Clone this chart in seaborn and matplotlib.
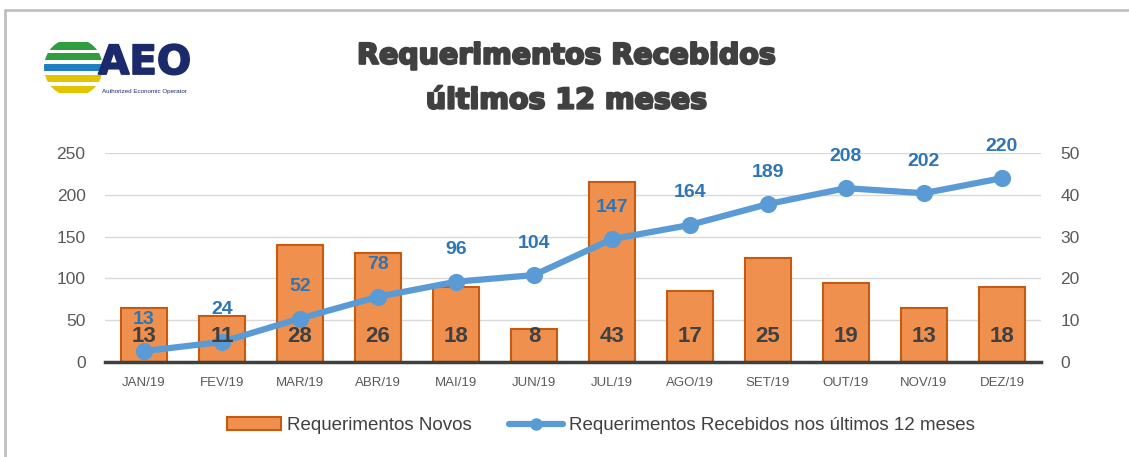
import numpy as np
import pandas as pd
import matplotlib
matplotlib.use("Agg")
import matplotlib.pyplot as plt
import matplotlib.patheffects as pe
from matplotlib.patches import Patch, Circle
from matplotlib.lines import Line2D
import seaborn as sns

sns.set_theme(style="white")
plt.rcParams['font.family'] = ['Liberation Sans', 'DejaVu Sans']

months = ['JAN/19', 'FEV/19', 'MAR/19', 'ABR/19', 'MAI/19', 'JUN/19',
          'JUL/19', 'AGO/19', 'SET/19', 'OUT/19', 'NOV/19', 'DEZ/19']
novos = [13, 11, 28, 26, 18, 8, 43, 17, 25, 19, 13, 18]
recebidos_12m = [13, 24, 52, 78, 96, 104, 147, 164, 189, 208, 202, 220]

df = pd.DataFrame({'mes': months, 'novos': novos, 'recebidos': recebidos_12m})

orange = '#F0904F'
orange_edge = '#C55A11'
blue_line = '#5B9BD5'
blue_txt = '#2E75B6'
dark = '#404040'
gray_txt = '#595959'

fig = plt.figure(figsize=(11.29, 4.57), dpi=100)
ax = fig.add_axes([0.093, 0.208, 0.829, 0.457])
ax2 = ax.twinx()

# bars (values on the 0-50 scale, shown on the right)
sns.barplot(data=df, x='mes', y='novos', color=orange, saturation=1,
            edgecolor=orange_edge, linewidth=1.5, width=0.6, ax=ax)
ax.set_ylim(0, 50)
ax.set_yticks(range(0, 51, 10))
ax.yaxis.tick_right()
ax.grid(axis='y', color='#D9D9D9', linewidth=1)
ax.set_axisbelow(True)

# line (values on the 0-250 scale, shown on the left)
sns.pointplot(data=df, x='mes', y='recebidos', color=blue_line,
              markers='o', markersize=9, linewidth=4.5, ax=ax2)
ax2.set_ylim(0, 250)
ax2.set_yticks(range(0, 251, 50))
ax2.yaxis.tick_left()

ax.set_xlim(-0.5, len(months) - 0.5)
for a in (ax, ax2):
    a.set_xlabel('')
    a.set_ylabel('')
    for s in a.spines.values():
        s.set_visible(False)
    a.tick_params(axis='both', length=0, colors=gray_txt)
ax.spines['bottom'].set_visible(True)
ax.spines['bottom'].set_color(dark)
ax.spines['bottom'].set_linewidth(2.5)
ax.tick_params(axis='y', labelsize=12.5, pad=14)
ax2.tick_params(axis='y', labelsize=12.5, pad=14)
ax.tick_params(axis='x', labelsize=9.5, pad=11)
ax2.tick_params(axis='x', labelbottom=False)

# labels
for i, v in enumerate(novos):
    ax2.text(i, 6 * 5, str(v), ha='center', va='center', fontsize=16,
             fontweight='bold', color=dark, zorder=6)
for i, v in enumerate(recebidos_12m):
    ax2.annotate(str(v), (i, v), xytext=(0, 23), textcoords='offset points',
                 ha='center', va='center', fontsize=14, fontweight='bold',
                 color=blue_txt, zorder=6)

# title
heavy = [pe.withStroke(linewidth=1.6, foreground=dark)]
for y, t in [(0.878, 'Requerimentos Recebidos'), (0.78, 'últimos 12 meses')]:
    fig.text(0.502, y, t, ha='center', va='center', fontsize=20.5,
             fontweight='bold', color=dark, family=['DejaVu Sans'],
             path_effects=heavy)

# legend
handles = [Patch(facecolor=orange, edgecolor=orange_edge, linewidth=1.5),
           Line2D([], [], color=blue_line, linewidth=4.5, marker='o',
                  markersize=8)]
fig.legend(handles, ['Requerimentos Novos',
                     'Requerimentos Recebidos nos últimos 12 meses'],
           loc='center', bbox_to_anchor=(0.532, 0.068), ncol=2, frameon=False,
           fontsize=13.5, handlelength=2.9, columnspacing=2.0,
           handletextpad=0.3, labelcolor=dark)

# frame
fig.add_artist(Line2D([0.0045, 0.0045], [0, 0.978], color='#BFBFBF', lw=2))
fig.add_artist(Line2D([0.0045, 1], [0.978, 0.978], color='#BFBFBF', lw=2))

# logo
lax = fig.add_axes([0.039, 0.785, 0.052, 0.135])
lax.set_xlim(-1, 1)
lax.set_ylim(-1, 1)
lax.set_aspect('equal')
lax.axis('off')
clip = Circle((0, 0), 1, transform=lax.transData)
stripes = [(0.6, 0.85, '#2E9E3E'), (0.25, 0.48, '#2E9E3E'),
           (-0.12, 0.12, '#1F7FC1'), (-0.5, -0.27, '#E2C400'),
           (-0.88, -0.64, '#E2C400')]
for lo, hi, c in stripes:
    r = lax.fill_between([-1, 1], lo, hi, color=c, lw=0)
    r.set_clip_path(clip)
fig.text(0.087, 0.862, 'AEO', fontsize=29, fontweight='bold', color='#1B2A6B',
         va='center', ha='left', family=['DejaVu Sans'],
         path_effects=[pe.withStroke(linewidth=1.2, foreground='#1B2A6B')])
fig.text(0.09, 0.8, 'Authorized Economic Operator', fontsize=4.5,
         color='#1B2A6B', va='center', ha='left')

fig.savefig('out.png', dpi=100)
